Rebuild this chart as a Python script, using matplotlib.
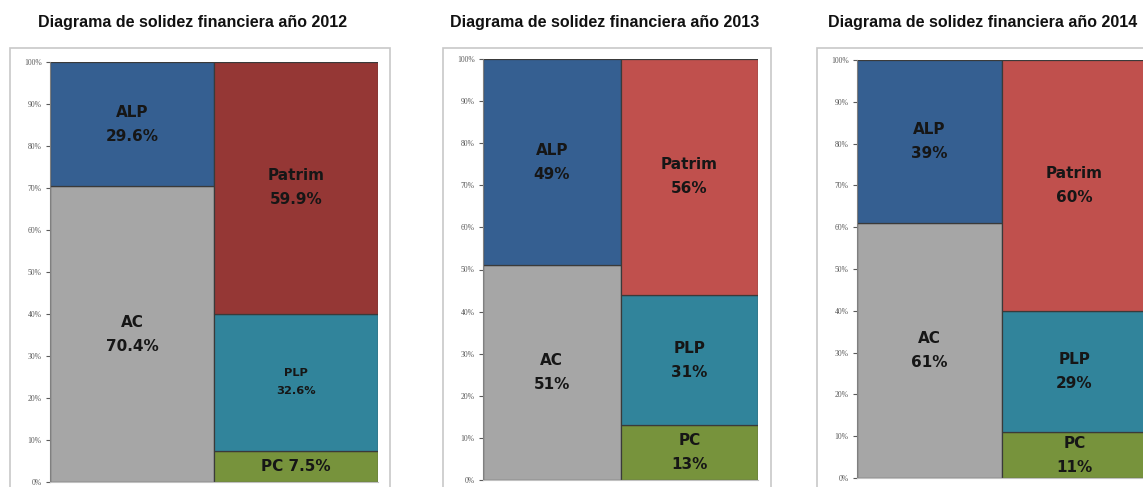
import matplotlib.pyplot as plt
from matplotlib.patches import Rectangle
from matplotlib.ticker import MultipleLocator, PercentFormatter

# ---------------- data ----------------
years = ["2012", "2013", "2014"]
# assets column: AC (bottom), ALP (top)
ac = [70.4, 51, 61]
alp = [29.6, 49, 39]
# liabilities column: PC (bottom), PLP, Patrim (top)
pc = [7.5, 13, 11]
plp = [32.6, 31, 29]
patrim = [59.9, 56, 60]

ac_labels = ["AC\n70.4%", "AC\n51%", "AC\n61%"]
alp_labels = ["ALP\n29.6%", "ALP\n49%", "ALP\n39%"]
pc_labels = ["PC 7.5%", "PC\n13%", "PC\n11%"]
plp_labels = ["PLP\n32.6%", "PLP\n31%", "PLP\n29%"]
patrim_labels = ["Patrim\n59.9%", "Patrim\n56%", "Patrim\n60%"]

c_ac = "#a6a6a6"
c_alp = "#355f91"
c_pc = "#77933c"
c_plp = "#31849b"
c_patrim = ["#953735", "#c0504d", "#c0504d"]

W, H = 1143, 487
fig = plt.figure(figsize=(W / 100, H / 100), dpi=100)

# pixel layout (left, right, bottom, top) of plot area, frame box, title centre
axes_px = [(50, 378, 5, 425), (483, 758, 7, 428), (857, 1147, 9, 427)]
frame_px = [(10, 390), (443, 771), (817, 1170)]
title_x = [193, 605, 983]

txt_col = "#161616"

for i, yr in enumerate(years):
    fl, fr = frame_px[i]
    fig.patches.append(Rectangle((fl / W, -0.05), (fr - fl) / W, (439 / H) + 0.05,
                                 transform=fig.transFigure, fill=False,
                                 edgecolor="#c8c8c8", linewidth=1.2, zorder=0))
    fig.text(title_x[i] / W, (H - 22) / H, f"Diagrama de solidez financiera año {yr}",
             ha="center", va="center", fontsize=11.5, fontweight="bold",
             family="Liberation Sans", color="#111111")

    l, r, b, t = axes_px[i]
    ax = fig.add_axes([l / W, b / H, (r - l) / W, (t - b) / H])
    kw = dict(width=1.0, edgecolor="#3a3a3a", linewidth=0.9)
    ax.bar(0, ac[i], color=c_ac, **kw)
    ax.bar(0, alp[i], bottom=ac[i], color=c_alp, **kw)
    ax.bar(1, pc[i], color=c_pc, **kw)
    ax.bar(1, plp[i], bottom=pc[i], color=c_plp, **kw)
    ax.bar(1, patrim[i], bottom=pc[i] + plp[i], color=c_patrim[i], **kw)

    big = dict(ha="center", va="center", fontsize=11, fontweight="bold",
               family="DejaVu Sans", color=txt_col, linespacing=1.75)
    ax.text(0, ac[i] / 2, ac_labels[i], **big)
    ax.text(0, ac[i] + alp[i] / 2, alp_labels[i], **big)
    ax.text(1, pc[i] + plp[i] + patrim[i] / 2, patrim_labels[i], **big)
    if i == 0:
        ax.text(1, pc[i] + plp[i] / 2, plp_labels[i],
                **{**big, "fontsize": 8.2, "linespacing": 2.0})
        ax.text(1, pc[i] / 2, pc_labels[i], **big)
    else:
        ax.text(1, pc[i] + plp[i] / 2, plp_labels[i], **big)
        ax.text(1, pc[i] / 2, pc_labels[i], **big)

    ax.set_xlim(-0.5, 1.5)
    ax.set_ylim(0, 100)
    ax.yaxis.set_major_locator(MultipleLocator(10))
    ax.yaxis.set_major_formatter(PercentFormatter(decimals=0))
    ax.set_xticks([])
    ax.tick_params(axis="y", labelsize=5.5, colors="#5a5a5a", length=3,
                   width=0.8, pad=3)
    for lab in ax.get_yticklabels():
        lab.set_family("Liberation Serif")
    ax.spines["top"].set_visible(False)
    ax.spines["right"].set_visible(False)
    ax.spines["left"].set_color("#808080")
    ax.spines["bottom"].set_color("#c0c0c0")
    ax.patch.set_alpha(0)

fig.savefig("out.png", dpi=100)
